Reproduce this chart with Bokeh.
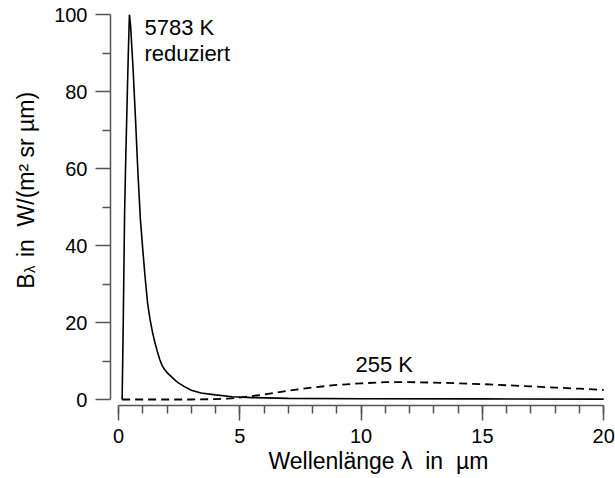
import math
from bokeh.plotting import figure
from bokeh.models import Range1d, FixedTicker, Label
from bokeh.embed import file_html
from bokeh.resources import INLINE

# Reduced spectral radiance of a 5783 K black body (wavelength in µm)
sun_wl = [0.15, 0.2, 0.25, 0.3, 0.35, 0.4, 0.45, 0.5, 0.6, 0.7, 0.8, 0.9, 1.0,
          1.1, 1.2, 1.3, 1.4, 1.5, 1.6, 1.7, 1.8, 1.9, 2.0, 2.2, 2.35, 2.5,
          2.7, 3.0, 3.4, 4.0, 4.7, 5.5, 7.0, 10.0, 15.0, 20.0]
sun_b = [0, 22, 48, 63, 76, 89, 100, 97, 86, 73, 59, 47, 39,
         31.5, 25, 20.8, 17.5, 14.8, 12.5, 10.4, 8.8, 7.8, 7.0, 5.8, 4.9, 4.2,
         3.4, 2.4, 1.7, 1.2, 0.7, 0.5, 0.3, 0.2, 0.15, 0.1]

# Spectral radiance of a 255 K black body
earth_wl = [0.15, 1, 2, 3, 4, 4.5, 5, 6, 7, 8, 9, 10, 11, 12, 13, 14, 15, 16,
            17, 18, 19, 20]
earth_b = [0, 0, 0, 0, 0.1, 0.25, 0.5, 1.3, 2.3, 3.1, 3.8, 4.2, 4.5, 4.5, 4.4,
           4.2, 4.0, 3.7, 3.4, 3.1, 2.8, 2.5]

y_ticks = [0, 20, 40, 60, 80, 100]
y_minor = [10, 30, 50, 70, 90]
x_ticks = [0, 5, 10, 15, 20]
x_minor = list(range(0, 21))

FONT = "Liberation Sans"
AXIS_GREY = "#555555"
NBSP = "\u00a0"

# the frame fills the whole canvas; axes sit at fixed data positions
p = figure(width=615, height=478, output_backend="svg", toolbar_location=None,
           x_range=Range1d(-4.864, 20.486), y_range=Range1d(-20.53, 103.69),
           min_border=0)
p.outline_line_color = None
p.xgrid.visible = False
p.ygrid.visible = False
p.background_fill_color = "white"
p.border_fill_color = "white"

for ax, ticks, minor, bounds, loc in (
        (p.xaxis[0], x_ticks, x_minor, (0, 20), -1.56),
        (p.yaxis[0], y_ticks, y_minor, (0, 100), -0.33)):
    ax.fixed_location = loc
    ax.ticker = FixedTicker(ticks=ticks, minor_ticks=minor)
    ax.bounds = bounds
    ax.axis_line_color = AXIS_GREY
    ax.axis_line_width = 1.5
    ax.major_tick_line_color = AXIS_GREY
    ax.major_tick_line_width = 1.5
    ax.minor_tick_line_color = AXIS_GREY
    ax.minor_tick_line_width = 1.5
    ax.major_tick_in = 0
    ax.major_tick_out = 15
    ax.minor_tick_in = 0
    ax.minor_tick_out = 8
    ax.major_label_text_font = FONT
    ax.major_label_text_font_size = "20px"
    ax.major_label_text_color = "black"
    ax.major_label_standoff = 8

p.line(sun_wl, sun_b, line_color="black", line_width=1.6)
p.line(earth_wl, earth_b, line_color="black", line_width=1.8, line_dash="8 5")


def lab(text, x, y, size, angle=0.0):
    p.add_layout(Label(x=x, y=y, text=text, text_font=FONT,
                       text_font_size=size, text_color="black",
                       text_align="left", text_baseline="alphabetic",
                       angle=angle))


# curve annotations
lab("5783 K", 1.07, 96.7, "22px")
lab("reduziert", 1.07, 90.0, "22px")
lab("255 K", 9.77, 9.1, "22px")

# x axis title
lab(f"Wellenlänge λ{NBSP}{NBSP}in{NBSP}{NBSP}µm", 6.18, -16.1, "23px")

# y axis title, built from pieces to get the subscript
rot = math.pi / 2
lab("B", -3.83, 28.8, "23px", rot)
lab("λ", -3.67, 32.9, "15px", rot)
lab(f"in{NBSP}{NBSP}W/(m² sr µm)", -3.83, 37.0, "23px", rot)

open("out.html", "w").write(file_html(p, INLINE))
